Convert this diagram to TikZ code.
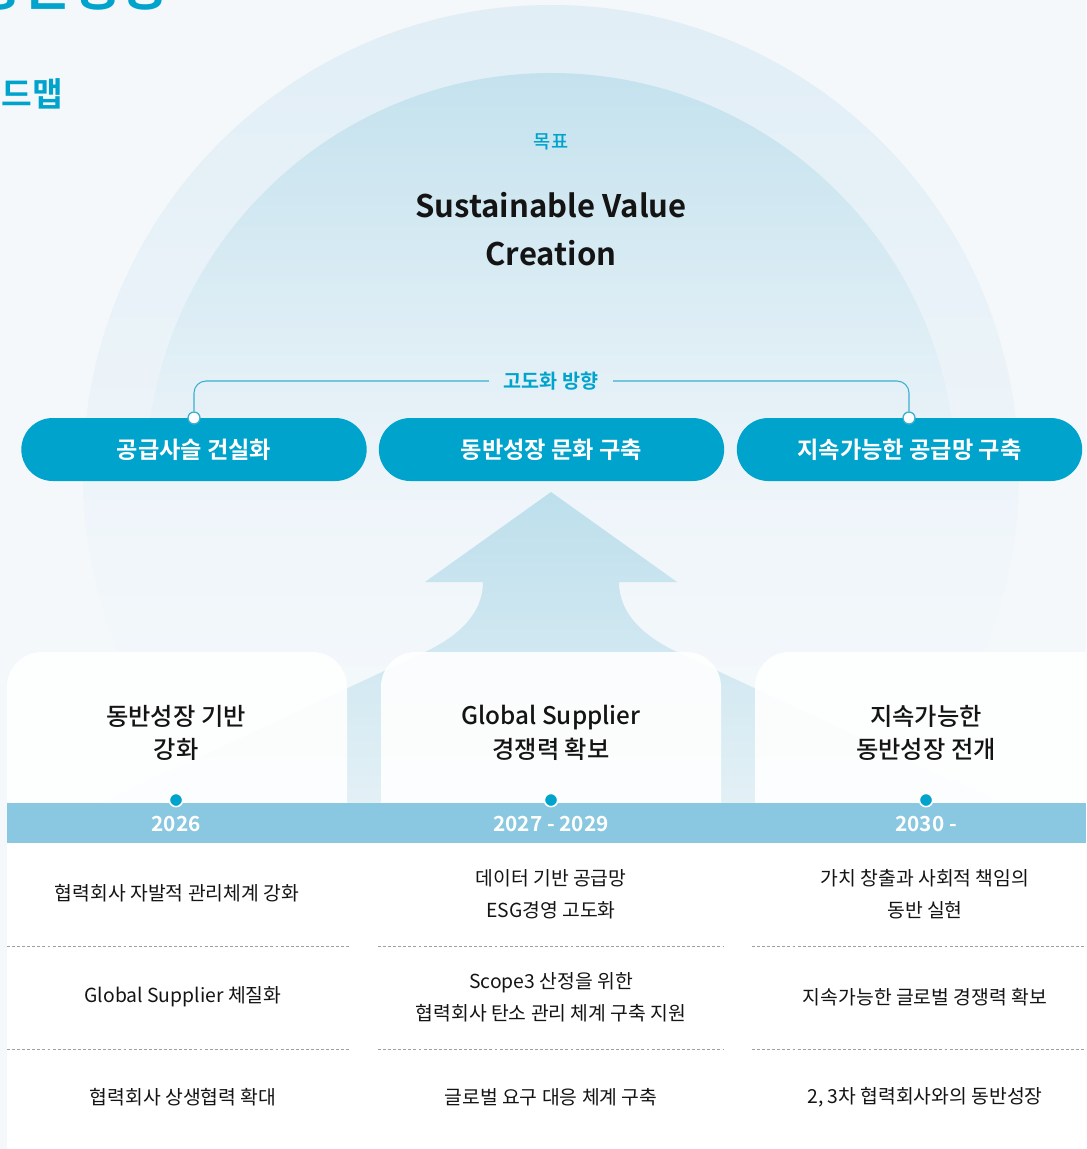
\documentclass[tikz,border=0pt]{standalone}
\usepackage{fontspec}
\setmainfont{Noto Sans CJK KR}
\newfontfamily\bfk{Noto Sans CJK KR}[UprightFont={* Bold}]
\newfontfamily\mdk{Noto Sans CJK KR}[UprightFont={* Medium}]
\definecolor{bg}{HTML}{F4F8FB}
\definecolor{outerc}{HTML}{E1EEF6}
\definecolor{innerc}{HTML}{C4E2EE}
\definecolor{cyanA}{HTML}{00A3CC}
\definecolor{bandc}{HTML}{8AC7E0}
\definecolor{arrowtop}{HTML}{BDDFEC}
\definecolor{arrowbot}{HTML}{E3F0F6}
\definecolor{ink}{HTML}{141414}
\definecolor{dashc}{HTML}{A0A0A0}
\definecolor{linec}{HTML}{3AAFD0}
\tikzset{
  pill/.style={fill=cyanA, rounded corners=23.6pt, minimum width=259pt, minimum height=47.25pt, text=white, font=\bfk\fontsize{17.4}{20}\selectfont, inner sep=0pt},
  item/.style={text=ink, align=center, font=\fontsize{14.5}{24}\selectfont, inner sep=0pt},
  title/.style={text=ink, align=center, font=\mdk\fontsize{18.2}{25}\selectfont, inner sep=0pt},
  year/.style={text=white, font=\bfk\fontsize{15.6}{18}\selectfont, inner sep=0pt},
  banddot/.style={circle, fill=cyanA, draw=white, line width=1.2pt, minimum size=10pt, inner sep=0pt},
  pilldot/.style={circle, fill=white, draw=linec, line width=1pt, minimum size=9pt, inner sep=0pt},
  conn/.style={draw=linec, line width=0.8pt, rounded corners=9pt},
  dashline/.style={draw=dashc, line width=0.6pt, dash pattern=on 2.2pt off 1.6pt},
  card/.style={fill=white, fill opacity=0.9, rounded corners=26pt}
}
\begin{document}
\begin{tikzpicture}[x=0.75pt,y=-0.75pt]
\useasboundingbox (0,0) rectangle (1086,1149);
\clip (0,0) rectangle (1086,1149);
\fill[bg] (0,0) rectangle (1086,1149);
% outer circle
\begin{scope}
  \clip (551,473) circle[radius=468];
  \shade[top color=outerc, middle color=outerc!70!bg, bottom color=bg] (0,5) rectangle (1086,700);
\end{scope}
% inner circle
\begin{scope}
  \clip (551,478) circle[radius=405];
  \shade[top color=innerc, middle color=innerc!70!bg, bottom color=outerc!35!bg] (0,73) rectangle (1086,480);
\end{scope}
% cut-off titles
\node[anchor=base east, text=cyanA, font=\bfk\fontsize{40}{44}\selectfont, inner sep=0pt] (bigtitle) at (170,6) {동반성장};
\node[anchor=base east, text=cyanA, font=\bfk\fontsize{25}{28}\selectfont, inner sep=0pt] (subtitle) at (63,106) {로드맵};
% goal
\node[text=cyanA, font=\mdk\fontsize{14}{16}\selectfont] (goal) at (551,142) {목표};
\node[text=ink, align=center, font=\bfk\fontsize{23.3}{36}\selectfont] (svc) at (551,229) {Sustainable Value\\Creation};
% arrow
\shade[top color=arrowtop, bottom color=arrowbot]
  (551,492) -- (677,582) -- (619,582) .. controls (619,615) and (645.5,637) .. (677,652)
  -- (1001,803) -- (101,803) -- (425,652)
  .. controls (456.5,637) and (483,615) .. (483,582) -- (425,582) -- cycle;
% pills
\node[pill] (p1) at (194,449.5) {공급사슬 건실화};
\node[pill] (p2) at (551.5,449.5) {동반성장 문화 구축};
\node[pill] (p3) at (909.5,449.5) {지속가능한 공급망 구축};
% direction label and connectors
\node[text=cyanA, font=\bfk\fontsize{14.7}{16}\selectfont, inner xsep=11pt] (dir) at (551,381) {고도화 방향};
\node[pilldot] (d1) at (194,418) {};
\node[pilldot] (d3) at (909,418) {};
\draw[conn] (dir.west) -| (d1.north);
\draw[conn] (dir.east) -| (d3.north);
% cards
\fill[card] (7,652) rectangle (347,900);
\fill[card] (381,652) rectangle (721,900);
\fill[card] (755,652) rectangle (1130,900);
\fill[white] (7,843) rectangle (1086,1149);
\fill[bandc] (7,803) rectangle (1086,843);
% titles
\node[title] (t1) at (176,733) {동반성장 기반\\강화};
\node[title] (t2) at (551,733) {Global Supplier\\경쟁력 확보};
\node[title] (t3) at (926,733) {지속가능한\\동반성장 전개};
% years
\node[banddot] (b1) at (176,800) {};
\node[banddot] (b2) at (551,800) {};
\node[banddot] (b3) at (926,800) {};
\node[year] (y1) at (176,824) {2026};
\node[year] (y2) at (551,824) {2027 - 2029};
\node[year] (y3) at (926,824) {2030 -};
% dashed separators
\draw[dashline] (7,946) -- (350,946);
\draw[dashline] (378,946) -- (724,946);
\draw[dashline] (752,946) -- (1086,946);
\draw[dashline] (7,1049) -- (350,1049);
\draw[dashline] (378,1049) -- (724,1049);
\draw[dashline] (752,1049) -- (1086,1049);
% items
\node[item] (l1) at (177,893) {협력회사 자발적 관리체계 강화};
\node[item] (l2) at (183,997) {Global Supplier 체질화};
\node[item] (l3) at (183,1097) {협력회사 상생협력 확대};
\node[item] (m1) at (551,894) {데이터 기반 공급망\\ESG경영 고도화};
\node[item] (m2) at (551,997) {Scope3 산정을 위한\\협력회사 탄소 관리 체계 구축 지원};
\node[item] (m3) at (551,1097) {글로벌 요구 대응 체계 구축};
\node[item] (r1) at (925,894) {가치 창출과 사회적 책임의\\동반 실현};
\node[item] (r2) at (925,997) {지속가능한 글로벌 경쟁력 확보};
\node[item] (r3) at (925,1097) {2, 3차 협력회사와의 동반성장};
\end{tikzpicture}
\end{document}
